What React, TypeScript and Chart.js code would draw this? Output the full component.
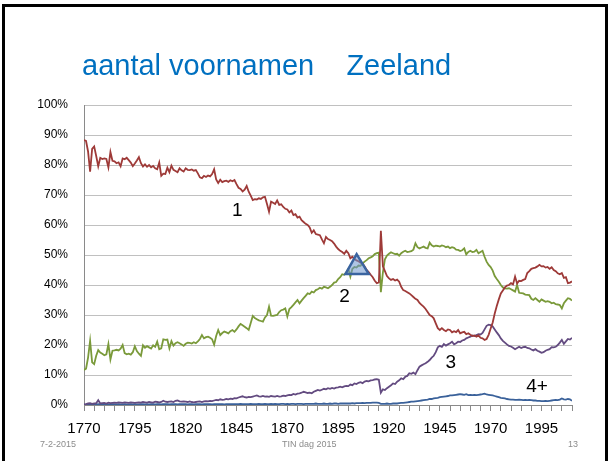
import React, { useEffect, useRef } from 'react';
import { Chart, registerables } from 'chart.js';

Chart.register(...registerables);

const FONT = '"Liberation Sans", Arial, sans-serif';

// ---- data (percentages, one value per year from 1770 to 2010) ----
const startYear = 1770;

const oneName = [
  88.3, 88.0, 84.5, 77.8, 85.4, 86.2, 83.0, 79.6, 82.4, 82.0,
  82.2, 82.0, 79.2, 84.3, 81.4, 81.2, 80.6, 80.9, 79.6, 82.2,
  81.9, 82.4, 81.6, 80.8, 79.6, 80.5, 81.5, 82.6, 80.6, 79.5,
  80.2, 79.4, 80.0, 79.2, 79.7, 78.9, 78.6, 80.8, 76.4, 77.1,
  77.0, 79.1, 77.6, 79.8, 78.4, 78.0, 77.6, 78.9, 78.2, 77.8,
  78.9, 78.4, 78.3, 78.5, 78.1, 78.3, 77.2, 75.9, 75.6, 76.4,
  76.0, 76.5, 76.2, 77.0, 78.6, 75.2, 74.0, 75.1, 74.3, 74.6,
  74.8, 74.4, 74.9, 74.6, 75.0, 73.6, 72.4, 72.0, 71.2, 71.8,
  73.0, 71.1, 69.8, 68.3, 68.6, 68.5, 68.9, 68.7, 69.2, 69.4,
  67.0, 64.4, 67.8, 67.4, 67.0, 68.2, 66.7, 66.9, 66.0, 65.4,
  65.2, 64.2, 64.8, 63.3, 63.6, 62.5, 62.8, 61.6, 61.0, 60.4,
  60.0, 59.2, 57.4, 58.2, 57.0, 56.8, 56.6, 55.2, 53.9, 56.0,
  55.3, 55.0, 54.6, 53.8, 52.8, 52.0, 51.4, 51.0, 50.4, 51.4,
  50.6, 48.9, 49.4, 48.7, 48.2, 47.9, 47.4, 47.2, 46.2, 45.0,
  44.3, 43.4, 42.6, 41.4, 40.6, 40.9, 58.1, 46.2, 44.6, 43.0,
  42.2, 41.7, 42.0, 41.5, 41.8, 41.1, 39.4, 38.3, 38.0, 37.6,
  37.2, 36.6, 36.0, 35.4, 35.0, 34.0, 33.4, 32.8, 32.0, 31.0,
  30.0, 29.6, 28.9, 27.2, 25.6, 25.0, 25.6, 25.0, 24.6, 25.2,
  25.0, 24.2, 24.6, 24.3, 25.0, 23.9, 24.2, 24.4, 23.6, 23.9,
  23.4, 23.0, 23.2, 22.8, 23.2, 22.4, 22.2, 21.7, 22.0, 23.4,
  25.5, 27.5, 30.5, 33.0, 35.2, 37.2, 38.2, 39.2, 39.8, 40.0,
  40.6, 40.2, 42.8, 40.5, 41.4, 41.3, 41.7, 42.0, 44.0, 44.6,
  45.4, 45.6, 45.8, 46.2, 46.7, 46.2, 46.3, 45.8, 46.0, 45.4,
  45.9, 45.0, 44.6, 43.9, 43.6, 44.0, 42.4, 42.6, 40.6, 40.8,
  41.2,
];

const twoNames = [
  11.7, 12.1, 15.8, 21.4, 14.2, 13.6, 16.4, 18.3, 17.5, 17.1,
  16.6, 16.9, 20.3, 15.2, 18.1, 18.2, 18.4, 18.2, 18.8, 20.0,
  17.3, 16.9, 17.1, 16.8, 17.6, 19.6, 18.0, 17.1, 16.4, 19.9,
  19.1, 19.6, 19.2, 18.8, 19.9, 19.4, 21.1, 18.6, 18.9, 21.9,
  21.7, 21.8, 18.9, 21.3, 19.8, 20.6, 20.9, 20.6, 20.2, 19.7,
  20.4, 20.8, 20.7, 20.5, 20.9, 20.6, 21.2, 22.0, 23.3, 22.2,
  22.6, 22.8, 22.4, 21.9, 20.1, 23.0, 25.0, 23.3, 24.0, 24.5,
  24.2, 23.9, 24.6, 25.0, 24.4, 25.2, 26.2, 27.0, 26.6, 26.1,
  25.6, 25.0, 27.3, 29.7, 29.0, 28.6, 28.2, 28.0, 27.8, 29.2,
  30.0, 32.8, 29.8, 29.7, 29.9, 30.0, 31.0, 31.6, 31.8, 32.2,
  29.5, 32.0, 32.6, 33.4, 34.2, 35.0, 33.9, 34.8, 35.6, 36.4,
  37.2, 37.0, 37.8, 37.5, 38.3, 38.6, 39.1, 38.8, 39.4, 39.2,
  38.9, 39.4, 40.0, 40.8, 41.0, 42.0, 42.6, 43.6, 43.4, 44.2,
  45.4, 42.8, 45.4, 46.0, 45.8, 46.5, 46.4, 47.2, 47.8, 48.3,
  48.9, 49.2, 49.6, 50.3, 50.6, 50.8, 37.6, 44.2, 48.6, 49.8,
  50.4, 50.9, 50.6, 50.3, 50.4, 49.8, 50.6, 51.1, 51.4, 51.0,
  51.1, 51.3, 51.8, 53.9, 52.6, 52.2, 52.5, 52.8, 52.4, 52.2,
  54.1, 53.2, 52.8, 53.1, 53.0, 52.8, 53.2, 53.0, 52.6, 52.8,
  52.3, 52.6, 52.4, 51.8, 51.7, 51.3, 51.6, 52.2, 50.2, 51.0,
  51.4, 51.0, 51.1, 51.7, 50.6, 51.0, 51.4, 49.4, 47.8, 46.7,
  46.0, 44.8, 43.0, 42.0, 41.1, 40.0, 39.2, 38.9, 38.8, 38.9,
  38.6, 38.2, 37.8, 40.0, 37.4, 37.3, 37.2, 36.8, 36.7, 36.6,
  35.4, 35.0, 35.6, 35.0, 34.4, 35.2, 34.8, 34.4, 34.6, 34.4,
  33.9, 34.1, 33.6, 33.5, 33.3, 32.2, 33.9, 34.8, 35.6, 35.4,
  34.8,
];

const threeNames = [
  0.2, 0.3, 0.5, 0.6, 0.4, 0.5, 0.6, 1.6, 0.5, 0.6,
  0.7, 0.5, 0.8, 0.6, 0.7, 0.8, 0.7, 0.9, 0.8, 0.7,
  0.9, 0.8, 0.7, 0.9, 0.8, 0.7, 0.8, 0.9, 0.8, 1.0,
  0.9, 0.8, 1.0, 0.9, 0.8, 1.1, 1.0, 0.9, 1.0, 1.4,
  1.1, 1.0, 1.1, 1.2, 1.0, 1.4, 1.5, 1.2, 1.1, 1.2,
  1.1, 1.0, 1.2, 1.0, 0.9, 1.0, 1.1, 1.2, 1.0, 1.2,
  1.3, 1.2, 1.4, 1.3, 1.5, 1.7, 1.6, 1.9, 1.7, 1.8,
  2.0, 1.9, 2.1, 2.0, 2.3, 2.2, 2.5, 2.7, 2.9, 2.6,
  2.5, 2.7, 2.6, 2.8, 3.0, 3.2, 2.9, 2.8, 3.0, 2.8,
  2.9, 2.7, 3.0, 2.9, 2.8, 3.0, 2.8, 2.9, 3.1, 3.0,
  3.2, 3.4, 3.3, 3.7, 3.5, 3.8, 3.9, 4.1, 4.4, 4.2,
  4.0, 4.1, 3.9, 4.4, 4.7, 5.0, 4.8, 5.1, 5.4, 5.2,
  5.6, 5.4, 5.7, 5.5, 5.8, 5.9, 6.1, 5.9, 6.2, 6.4,
  6.3, 6.8, 6.6, 7.2, 7.0, 7.4, 7.6, 7.3, 7.8, 8.0,
  7.9, 8.2, 8.3, 8.5, 8.6, 8.4, 4.1, 5.2, 5.0, 5.6,
  6.1, 6.6, 7.2, 7.0, 7.8, 8.2, 8.9, 8.6, 9.4, 9.7,
  10.6, 10.4, 10.8, 10.3, 11.6, 12.8, 13.2, 13.6, 13.9, 14.4,
  15.0, 15.8, 16.4, 17.6, 19.2, 19.7, 19.4, 20.3, 19.8, 20.2,
  20.6, 21.1, 20.2, 20.6, 21.1, 21.0, 21.5, 21.7, 22.2, 22.5,
  22.8, 23.2, 23.0, 23.3, 23.6, 23.5, 24.0, 25.2, 26.4, 26.8,
  26.6, 26.2, 25.2, 24.2, 23.3, 22.2, 21.4, 20.8, 20.2, 19.7,
  19.5, 19.1, 18.6, 19.0, 19.4, 19.0, 19.3, 19.4, 19.0, 18.9,
  18.5, 18.2, 18.6, 18.1, 17.8, 17.4, 17.6, 18.1, 18.4, 18.6,
  19.3, 19.2, 19.4, 20.0, 20.8, 21.7, 20.4, 21.2, 22.0, 21.8,
  22.4,
];

const fourPlusNames = [
  0.1, 0.1, 0.2, 0.2, 0.1, 0.2, 0.2, 0.3, 0.2, 0.2,
  0.2, 0.1, 0.2, 0.2, 0.3, 0.2, 0.2, 0.3, 0.2, 0.2,
  0.3, 0.2, 0.2, 0.3, 0.2, 0.3, 0.2, 0.2, 0.3, 0.3,
  0.2, 0.3, 0.2, 0.3, 0.3, 0.2, 0.3, 0.3, 0.2, 0.3,
  0.3, 0.3, 0.2, 0.3, 0.3, 0.3, 0.2, 0.3, 0.3, 0.3,
  0.3, 0.2, 0.3, 0.3, 0.2, 0.3, 0.3, 0.3, 0.2, 0.3,
  0.3, 0.3, 0.3, 0.2, 0.3, 0.3, 0.3, 0.3, 0.3, 0.2,
  0.3, 0.3, 0.3, 0.3, 0.3, 0.3, 0.3, 0.4, 0.3, 0.3,
  0.3, 0.3, 0.4, 0.3, 0.3, 0.3, 0.4, 0.3, 0.3, 0.4,
  0.3, 0.3, 0.4, 0.3, 0.4, 0.3, 0.3, 0.4, 0.4, 0.3,
  0.4, 0.3, 0.4, 0.4, 0.3, 0.4, 0.4, 0.4, 0.3, 0.4,
  0.4, 0.4, 0.4, 0.4, 0.5, 0.4, 0.4, 0.4, 0.5, 0.4,
  0.4, 0.5, 0.4, 0.5, 0.5, 0.4, 0.5, 0.5, 0.5, 0.5,
  0.5, 0.5, 0.6, 0.5, 0.6, 0.6, 0.6, 0.7, 0.6, 0.7,
  0.7, 0.7, 0.8, 0.8, 0.8, 0.7, 0.4, 0.4, 0.4, 0.5,
  0.4, 0.4, 0.5, 0.5, 0.5, 0.6, 0.7, 0.7, 0.8, 0.9,
  1.0, 1.1, 1.1, 1.2, 1.3, 1.4, 1.5, 1.6, 1.7, 1.8,
  2.0, 2.0, 2.2, 2.3, 2.4, 2.6, 2.7, 2.8, 2.9, 3.0,
  3.2, 3.2, 3.3, 3.4, 3.5, 3.6, 3.5, 3.4, 3.6, 3.3,
  3.4, 3.3, 3.4, 3.3, 3.4, 3.5, 3.6, 3.8, 3.5, 3.4,
  3.3, 3.2, 3.0, 2.8, 2.6, 2.4, 2.3, 2.2, 2.0, 1.9,
  1.8, 1.8, 1.7, 1.7, 1.8, 1.7, 1.6, 1.7, 1.6, 1.7,
  1.6, 1.5, 1.5, 1.4, 1.4, 1.3, 1.3, 1.4, 1.3, 1.4,
  1.5, 1.6, 1.7, 1.6, 1.8, 2.2, 1.9, 1.8, 2.0, 1.9,
  1.4,
];

const years = oneName.map((_, i) => startYear + i);

const xTickLabels = ['1770', '1795', '1820', '1845', '1870', '1895', '1920', '1945', '1970', '1995'];

// series annotations (in data units: year, percent)
const annoLabels = ['1', '2', '3', '4+'];
const annoYears = [1845.4, 1898.1, 1950.4, 1992.8];
const annoValues = [64.7, 36.0, 14.0, 6.0];

// triangle marker (year, percent)
const triYears = [1904.1, 1898.6, 1910.0];
const triValues = [50.3, 43.7, 43.7];

const titleText = 'aantal voornamen    Zeeland';
const footerDate = '7-2-2015';
const footerMid = 'TIN dag 2015';
const footerPage = '13';

const overlayPlugin = {
  id: 'slideOverlay',
  afterDatasetsDraw(chart: any) {
    const { ctx, scales } = chart;
    const x = scales.x;
    const y = scales.y;
    ctx.save();
    // triangle
    ctx.beginPath();
    triYears.forEach((yr, i) => {
      const px = x.getPixelForValue(yr);
      const py = y.getPixelForValue(triValues[i]);
      if (i === 0) ctx.moveTo(px, py);
      else ctx.lineTo(px, py);
    });
    ctx.closePath();
    ctx.fillStyle = 'rgba(110, 150, 205, 0.55)';
    ctx.fill();
    ctx.lineWidth = 2.5;
    ctx.lineJoin = 'miter';
    ctx.strokeStyle = '#3A64A0';
    ctx.stroke();
    // number labels
    ctx.fillStyle = '#000000';
    ctx.font = `19px ${FONT}`;
    ctx.textAlign = 'center';
    ctx.textBaseline = 'middle';
    annoLabels.forEach((t, i) => {
      ctx.fillText(t, x.getPixelForValue(annoYears[i]), y.getPixelForValue(annoValues[i]));
    });
    ctx.restore();
  },
  afterDraw(chart: any) {
    const { ctx } = chart;
    ctx.save();
    // slide frame
    ctx.strokeStyle = '#000000';
    ctx.lineWidth = 3;
    ctx.beginPath();
    ctx.moveTo(3.5, 470);
    ctx.lineTo(3.5, 5.5);
    ctx.lineTo(606.5, 5.5);
    ctx.lineTo(606.5, 470);
    ctx.stroke();
    // title
    ctx.fillStyle = '#0070C0';
    ctx.font = `29px ${FONT}`;
    ctx.textAlign = 'left';
    ctx.textBaseline = 'alphabetic';
    ctx.fillText(titleText, 82, 75);
    // footer
    ctx.fillStyle = '#8C8C8C';
    ctx.font = `9px ${FONT}`;
    ctx.textAlign = 'left';
    ctx.fillText(footerDate, 40, 447);
    ctx.fillText(footerMid, 282, 447);
    ctx.textAlign = 'right';
    ctx.fillText(footerPage, 578, 447);
    ctx.restore();
  },
};

export default function App() {
  const canvasRef = useRef<HTMLCanvasElement | null>(null);

  useEffect(() => {
    const canvas = canvasRef.current;
    if (!canvas) return;
    const mk = (vals: number[]) => vals.map((v, i) => ({ x: years[i], y: v }));
    const chart = new Chart(canvas, {
      type: 'line',
      data: {
        datasets: [
          { label: '1', data: mk(oneName), borderColor: '#9E3A38', borderWidth: 1.8, pointRadius: 0, tension: 0 },
          { label: '2', data: mk(twoNames), borderColor: '#7A9A3A', borderWidth: 1.8, pointRadius: 0, tension: 0 },
          { label: '3', data: mk(threeNames), borderColor: '#634B80', borderWidth: 1.8, pointRadius: 0, tension: 0 },
          { label: '4+', data: mk(fourPlusNames), borderColor: '#3A619A', borderWidth: 1.8, pointRadius: 0, tension: 0 },
        ],
      },
      options: {
        responsive: false,
        devicePixelRatio: 1,
        animation: false,
        layout: { padding: { top: 105, right: 38, bottom: 0, left: 0 } },
        plugins: {
          legend: { display: false },
          tooltip: { enabled: false },
          title: { display: false },
        },
        scales: {
          x: {
            type: 'linear',
            min: 1770,
            max: 2010,
            ticks: {
              stepSize: 5,
              autoSkip: false,
              maxRotation: 0,
              minRotation: 0,
              includeBounds: false,
              padding: 9,
              color: '#000000',
              font: { family: FONT, size: 15 },
              callback: (v: any) => (xTickLabels.includes(String(v)) ? String(v) : ''),
            },
            grid: { drawOnChartArea: false, drawTicks: true, tickLength: 6, color: '#8A8A8A', lineWidth: 1 },
            border: { display: true, color: '#8A8A8A', width: 1 },
            afterFit: (s: any) => {
              s.height = 56;
            },
          },
          y: {
            type: 'linear',
            min: 0,
            max: 100,
            ticks: {
              stepSize: 10,
              padding: 16,
              color: '#000000',
              font: { family: FONT, size: 12 },
              callback: (v: any) => `${v}%`,
            },
            grid: { drawTicks: false, color: '#C0C0C0', lineWidth: 1 },
            border: { display: true, color: '#8A8A8A', width: 1 },
            afterFit: (s: any) => {
              s.width = 84;
            },
          },
        },
      },
      plugins: [overlayPlugin],
    });
    return () => chart.destroy();
  }, []);

  return (
    <div style={{ position: 'absolute', left: 0, top: 0, width: 610, height: 461, background: '#ffffff' }}>
      <canvas ref={canvasRef} width={610} height={461} style={{ display: 'block', width: 610, height: 461 }} />
    </div>
  );
}
